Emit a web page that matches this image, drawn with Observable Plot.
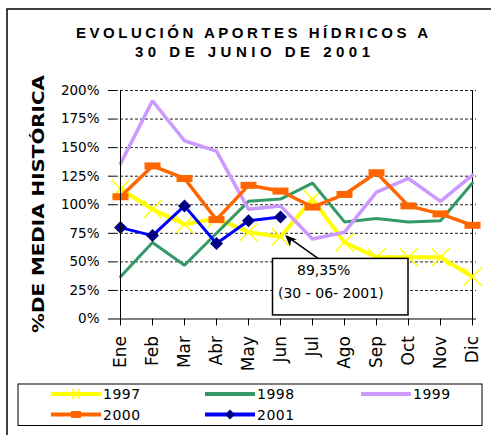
<!DOCTYPE html>
<html>
<head>
<meta charset="utf-8">
<script src="https://cdn.jsdelivr.net/npm/d3@7"></script>
<script src="https://cdn.jsdelivr.net/npm/@observablehq/plot@0.6"></script>
<style>
  html, body { margin: 0; padding: 0; background: #fff; }
  #chart { width: 491px; height: 435px; overflow: hidden; }
</style>
</head>
<body>
<div id="chart"></div>
<script>
const months = ["Ene","Feb","Mar","Abr","May","Jun","Jul","Ago","Sep","Oct","Nov","Dic"];
const years = ["1997","1998","1999","2000","2001"];
const v1997 = [1.14, 0.96, 0.83, 0.88, 0.76, 0.72, 1.05, 0.67, 0.54, 0.54, 0.54, 0.37];
const v1998 = [0.37, 0.67, 0.47, 0.75, 1.03, 1.05, 1.19, 0.85, 0.88, 0.85, 0.86, 1.19];
const v1999 = [1.36, 1.91, 1.56, 1.47, 0.96, 0.99, 0.70, 0.76, 1.11, 1.23, 1.03, 1.26];
const v2000 = [1.07, 1.34, 1.23, 0.87, 1.17, 1.12, 0.98, 1.09, 1.28, 0.99, 0.92, 0.82];
const v2001 = [0.80, 0.73, 0.99, 0.66, 0.86, 0.8935];
const yTicks = [0, 0.25, 0.5, 0.75, 1, 1.25, 1.5, 1.75, 2];
const title1 = "EVOLUCIÓN APORTES HÍDRICOS A";
const title2 = "30 DE JUNIO DE 2001";
const yTitle = "%DE MEDIA HISTÓRICA";
const noteLine1 = "89,35%";
const noteLine2 = "(30 - 06- 2001)";

const seriesValues = [v1997, v1998, v1999, v2000, v2001];
const colors = ["#FFFF00", "#339966", "#CC99FF", "#FF6600", "#0000FF"];
const widths = [4, 3, 3.5, 3.5, 3];

// custom marker shapes
const symX = {draw(c){ c.moveTo(-9,-9); c.lineTo(9,9); c.moveTo(9,-9); c.lineTo(-9,9); }};
const symRect = {draw(c){ c.rect(-8,-3.5,16,7); }};
const symDiamond = {draw(c){ c.moveTo(0,-6.5); c.lineTo(6.5,0); c.lineTo(0,6.5); c.lineTo(-6.5,0); c.closePath(); }};
const markers = [
  {symbol: symX, fill: "none", stroke: "#FFFF00", strokeWidth: 1.5},
  null,
  null,
  {symbol: symRect, fill: "#FF6600", stroke: "none"},
  {symbol: symDiamond, fill: "#000080", stroke: "none"}
];

const rows = years.flatMap((yr, k) => seriesValues[k].map((v, i) => ({year: yr, month: months[i], value: v})));

const marks = [
  Plot.ruleY(yTicks.filter(t => t > 0), {stroke: "#222", strokeDasharray: "3,2", strokeWidth: 1}),
  Plot.ruleX([months[months.length - 1]], {stroke: "#000", strokeWidth: 1})
];
years.forEach((yr, k) => {
  const data = rows.filter(d => d.year === yr);
  marks.push(Plot.line(data, {x: "month", y: "value", stroke: colors[k], strokeWidth: widths[k], strokeLinejoin: "miter"}));
  if (markers[k]) {
    marks.push(Plot.dot(data, {x: "month", y: "value", r: 5, ...markers[k]}));
  }
});
marks.push(
  Plot.ruleY([0], {stroke: "#000", strokeWidth: 1}),
  Plot.ruleX([months[0]], {stroke: "#000", strokeWidth: 1}),
  Plot.axisY({ticks: yTicks, tickSize: 7, tickPadding: 9, fontSize: 13.5, tickFormat: d => Math.round(d * 100) + "%", label: null}),
  Plot.axisX({tickSize: 7, tickPadding: 10, tickRotate: -90, fontSize: 17, label: null})
);

const plot = Plot.plot({
  width: 491,
  height: 435,
  marginTop: 90,
  marginBottom: 116.5,
  marginLeft: 115,
  marginRight: 15,
  style: {fontFamily: "DejaVu Sans", color: "#000", background: "#fff"},
  x: {type: "point", domain: months, padding: 0},
  y: {domain: [0, 2]},
  marks
});
document.getElementById("chart").appendChild(plot);

const svg = d3.select(plot);
const xs = plot.scale("x"), ys = plot.scale("y");

// outer frame
svg.append("rect").attr("x", 7).attr("y", 9).attr("width", 600).attr("height", 600)
  .attr("fill", "none").attr("stroke", "#000").attr("stroke-width", 1.5);

// titles
svg.append("text").attr("x", 252).attr("y", 38).attr("text-anchor", "middle")
  .attr("font-family", "Liberation Sans, Arial").attr("font-weight", "bold").attr("font-size", 15)
  .attr("textLength", 352).attr("lengthAdjust", "spacing").text(title1);
svg.append("text").attr("x", 252.5).attr("y", 57).attr("text-anchor", "middle")
  .attr("font-family", "Liberation Sans, Arial").attr("font-weight", "bold").attr("font-size", 15)
  .attr("textLength", 235).attr("lengthAdjust", "spacing").text(title2);

// y title
svg.append("text").attr("transform", "translate(43.5,204) rotate(-90)").attr("text-anchor", "middle")
  .attr("font-family", "DejaVu Sans").attr("font-weight", "bold").attr("font-size", 16.5)
  .attr("textLength", 258).attr("lengthAdjust", "spacingAndGlyphs").text(yTitle);

// annotation
const ax = xs.apply("Jun"), ay = ys.apply(v2001[5]);
const g = svg.append("g");
g.append("line").attr("x1", ax + 38).attr("y1", ay + 42).attr("x2", ax + 7).attr("y2", ay + 20)
  .attr("stroke", "#000").attr("stroke-width", 1.5);
g.append("path").attr("d", d3.line()([[ax + 5, ay + 18.5], [ax + 10, ay + 30], [ax + 11, ay + 24], [ax + 17, ay + 23]]) + "Z")
  .attr("fill", "#000");
g.append("rect").attr("x", ax - 7.5).attr("y", ay + 42).attr("width", 135.5).attr("height", 56.5)
  .attr("fill", "#fff").attr("stroke", "#000").attr("stroke-width", 1.5);
g.append("text").attr("x", ax + 17).attr("y", ay + 58.5).attr("text-anchor", "start")
  .attr("font-family", "DejaVu Sans").attr("font-size", 14).text(noteLine1);
g.append("text").attr("x", ax - 2).attr("y", ay + 82).attr("text-anchor", "start")
  .attr("font-family", "DejaVu Sans").attr("font-size", 14).text(noteLine2);

// legend
const leg = svg.append("g");
leg.append("rect").attr("x", 18).attr("y", 384).attr("width", 464).attr("height", 41.5)
  .attr("fill", "#fff").attr("stroke", "#000").attr("stroke-width", 1);
const colX = [51, 205, 361];
const rowY = [394, 414.5];
years.forEach((yr, k) => {
  const cx = colX[k % 3], cy = rowY[Math.floor(k / 3)];
  leg.append("line").attr("x1", cx).attr("x2", cx + 50).attr("y1", cy).attr("y2", cy)
    .attr("stroke", colors[k]).attr("stroke-width", 4);
  const m = markers[k];
  if (m) {
    const legSym = k === 0 ? {draw(c){ c.moveTo(-4,-5); c.lineTo(4,5); c.moveTo(4,-5); c.lineTo(-4,5); }} : k === 3 ? {draw(c){ c.rect(-5,-3.5,10,7); }} : {draw(c){ c.moveTo(0,-5); c.lineTo(5,0); c.lineTo(0,5); c.lineTo(-5,0); c.closePath(); }};
    leg.append("path").attr("transform", `translate(${cx + 25},${cy})`).attr("d", d3.symbol(legSym)())
      .attr("fill", m.fill).attr("stroke", m.stroke).attr("stroke-width", m.strokeWidth || 0);
  }
  leg.append("text").attr("x", cx + 52).attr("y", cy).attr("dy", "0.36em").attr("text-anchor", "start")
    .attr("font-family", "DejaVu Sans").attr("font-size", 14).attr("letter-spacing", 0.5).text(yr);
});
</script>
</body>
</html>
